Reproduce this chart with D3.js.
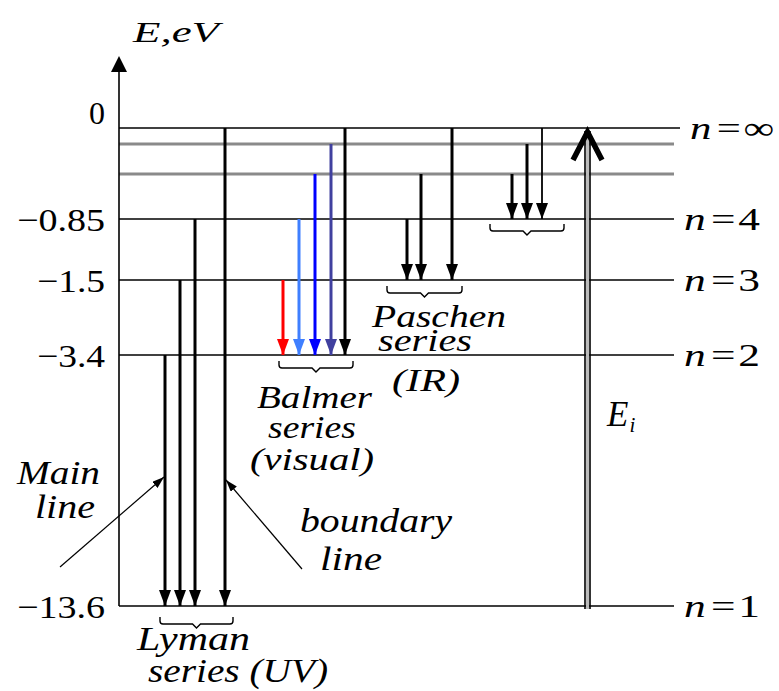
<!DOCTYPE html>
<html>
<head>
<meta charset="utf-8">
<script src="https://cdn.jsdelivr.net/npm/d3@7"></script>
<style>
  html, body { margin: 0; padding: 0; background: #fff; }
  svg text { font-family: "Liberation Serif", "DejaVu Serif", "Noto Serif", serif; fill: #000; }
  .it { font-style: italic; }
</style>
</head>
<body>
<div id="chart"></div>
<script>
// energy levels of hydrogen (schematic)
const levelNames    = ["1", "2", "3", "4", "5", "6", "∞"];
const levelEnergies = [-13.6, -3.4, -1.5, -0.85, -0.54, -0.38, 0];
const grayLevels    = ["5", "6"];

const tickValues = [0, -0.85, -1.5, -3.4, -13.6];
const tickLabels = ["0", "−0.85", "−1.5", "−3.4", "−13.6"];
const rightLabels = ["∞", "4", "3", "2", "1"];

// transitions: upper levels for each series, falling to the lower level
const lymanFrom    = ["2", "3", "4", "∞"];
const balmerFrom   = ["3", "4", "5", "6", "∞"];
const paschenFrom  = ["4", "5", "∞"];
const brackettFrom = ["5", "6", "∞"];
const balmerColors = ["#ff0000", "#3f7fff", "#0000ff", "#40409f", "#000000"];

const W = 779, H = 691;
const svg = d3.select("#chart").append("svg")
  .attr("width", W).attr("height", H);

const energy = d3.scaleLinear()   // piecewise, schematic diagram
  .domain(levelEnergies)
  .range([606, 355, 280, 219, 174, 144, 128]);
const lvlY = n => energy(levelEnergies[levelNames.indexOf(n)]);

const x = d3.scaleLinear().domain([0, 1]).range([119, 680]);

const defs = svg.append("defs");
function marker(id, color, w, h) {
  defs.append("marker").attr("id", id)
    .attr("viewBox", `0 0 ${w} ${h}`).attr("refX", w).attr("refY", h / 2)
    .attr("markerWidth", w).attr("markerHeight", h)
    .attr("markerUnits", "userSpaceOnUse").attr("orient", "auto")
    .append("path").attr("d", `M0,0L${w},${h / 2}L0,${h}Z`).attr("fill", color);
}
balmerColors.forEach((c, i) => marker("ah" + i, c, 16, 12));
marker("ahk", "#000", 16, 12);
marker("ptr", "#000", 12, 8);

// level lines
svg.append("g").selectAll("line")
  .data(levelNames)
  .join("line")
    .attr("x1", x(0))
    .attr("x2", d => d == "∞" ? x(1) : x(1) - 6)
    .attr("y1", d => lvlY(d)).attr("y2", d => lvlY(d))
    .attr("stroke", d => grayLevels.includes(d) ? "#8a8a8a" : "#000")
    .attr("stroke-width", d => grayLevels.includes(d) ? 3 : 1.6);

// y axis with arrow
svg.append("line").attr("x1", x(0)).attr("x2", x(0))
  .attr("y1", lvlY("1")).attr("y2", 70)
  .attr("stroke", "#000").attr("stroke-width", 1.6);
svg.append("path").attr("d", `M${x(0)},56L${x(0) - 8},72L${x(0) + 8},72Z`).attr("fill", "#000");
svg.append("text").attr("class", "it")
  .attr("x", 133).attr("y", 42).attr("font-size", 29)
  .attr("textLength", 86).attr("lengthAdjust", "spacingAndGlyphs")
  .text("E,eV");

// tick labels
const axis = d3.axisLeft(energy).tickValues(tickValues)
  .tickFormat((d, i) => tickLabels[i]).tickSize(0).tickPadding(0);
const ag = svg.append("g").attr("transform", `translate(105,0)`).call(axis);
ag.select(".domain").remove();
ag.attr("font-family", null).attr("font-size", null);
ag.selectAll("text")
  .attr("font-size", 32).attr("fill", "#000")
  .attr("textLength", (d, i) => tickLabels[i].length > 1 ? tickLabels[i].length * 20 - 12 : null)
  .attr("lengthAdjust", "spacingAndGlyphs")
  .attr("dy", d => d == 0 ? "-0.15em" : "0.35em");

// right labels n = ...
const rl = svg.append("g").selectAll("text").data(rightLabels).join("text")
  .attr("x", d => d == "∞" ? 690 : 684)
  .attr("y", d => lvlY(d) + 11)
  .attr("font-size", 32)
  .attr("textLength", d => d == "∞" ? 84 : 76).attr("lengthAdjust", "spacingAndGlyphs");
rl.append("tspan").attr("class", "it").text("n");
rl.append("tspan").attr("dx", 4).text("=");
rl.append("tspan").attr("dx", 2).text(d => d);

// transition arrows
function series(from, to, start, step, limitGap, colors, widthOf) {
  let cx = start;
  const xs = from.map((f, i) => {
    if (i > 0) cx += (f == "∞" ? limitGap : step);
    return cx;
  });
  const g = svg.append("g");
  g.selectAll("line").data(from).join("line")
    .attr("x1", (d, i) => xs[i]).attr("x2", (d, i) => xs[i])
    .attr("y1", d => lvlY(d)).attr("y2", lvlY(to))
    .attr("stroke", (d, i) => colors ? colors[i] : "#000")
    .attr("stroke-width", (d, i) => widthOf ? widthOf(d, i) : 3)
    .attr("marker-end", (d, i) => colors ? `url(#ah${i})` : "url(#ahk)");
  return xs;
}
function brace(x0, x1, yTop) {
  const m = (x0 + x1) / 2;
  svg.append("path")
    .attr("d", `M${x0},${yTop}v4q0,3 3,3H${m - 4}l4,4l4,-4H${x1 - 3}q3,0 3,-3v-4`)
    .attr("fill", "none").attr("stroke", "#000").attr("stroke-width", 1.4);
}

const lx = series(lymanFrom, "1", 165, 15, 30, null, () => 3);
brace(lx[0] - 5, lx[lx.length - 1] + 8, lvlY("1") + 11);
const bx = series(balmerFrom, "2", 283, 16, 14, balmerColors, () => 3);
brace(bx[0] - 4, bx[bx.length - 1] + 8, lvlY("2") + 6);
const px = series(paschenFrom, "3", 407, 14, 31, null, () => 3);
brace(px[0] - 20, px[px.length - 1] + 10, lvlY("3") + 6);
const kx = series(brackettFrom, "4", 512, 15, 15, null, d => d == "∞" ? 1.8 : 3);
brace(kx[0] - 22, kx[kx.length - 1] + 22, lvlY("4") + 5);

// ionisation arrow
[585, 590].forEach(v => svg.append("line")
  .attr("x1", v).attr("x2", v).attr("y1", lvlY("1") + 3).attr("y2", lvlY("∞") + 3)
  .attr("stroke", "#000").attr("stroke-width", 1.6));
svg.append("rect").attr("x", 586).attr("width", 3)
  .attr("y", lvlY("∞") + 3).attr("height", lvlY("1") - lvlY("∞"))
  .attr("fill", "#bbb");
svg.append("path").attr("d", `M573,160L587.5,132L602,160`)
  .attr("fill", "none").attr("stroke", "#000").attr("stroke-width", 5.5)
  .attr("stroke-linejoin", "miter");
const ei = svg.append("text").attr("class", "it").attr("x", 607).attr("y", 426).attr("font-size", 35);
ei.append("tspan").text("E");
ei.append("tspan").attr("font-size", 21).attr("dy", 6).attr("dx", 1).text("i");

// pointers
function pointer(x1, y1, x2, y2) {
  svg.append("line").attr("x1", x1).attr("y1", y1).attr("x2", x2).attr("y2", y2)
    .attr("stroke", "#000").attr("stroke-width", 1.2).attr("marker-end", "url(#ptr)");
}
pointer(60, 567, lx[0] - 1, 477);
pointer(302, 569, lx[lx.length - 1] + 1, 480);

// texts
function label(lines) {
  lines.forEach(l => svg.append("text").attr("class", "it")
    .attr("x", l[0]).attr("y", l[1]).attr("font-size", l[3] || 32)
    .attr("textLength", l[2]).attr("lengthAdjust", "spacingAndGlyphs")
    .text(l[4]));
}
label([
  [257, 408, 115, 32, "Balmer"],
  [268, 438, 88, 32, "series"],
  [250, 470, 124, 32, "(visual)"],
  [372, 327, 134, 32, "Paschen"],
  [378, 351, 94, 31, "series"],
  [392, 391, 68, 32, "(IR)"],
  [17, 484, 83, 33, "Main"],
  [35, 518, 60, 33, "line"],
  [300, 532, 152, 33, "boundary"],
  [320, 570, 62, 33, "line"],
  [137, 650, 113, 33, "Lyman"],
  [148, 682, 180, 33, "series (UV)"]
]);
</script>
</body>
</html>
